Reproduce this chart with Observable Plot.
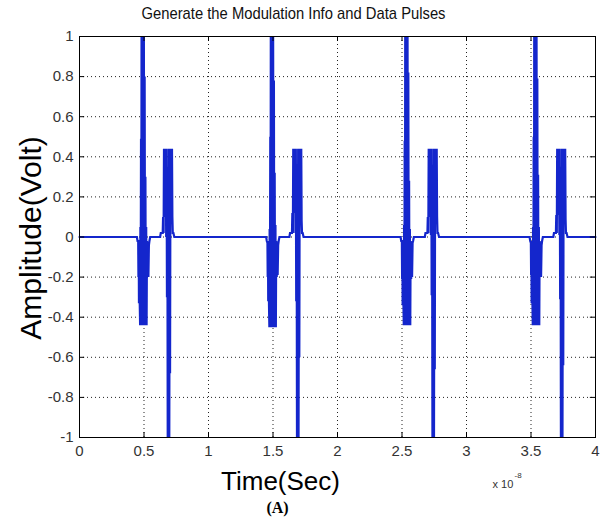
<!DOCTYPE html>
<html>
<head>
<meta charset="utf-8">
<script src="https://cdn.jsdelivr.net/npm/d3@7"></script>
<script src="https://cdn.jsdelivr.net/npm/@observablehq/plot@0.6"></script>
<style>
  html, body { margin: 0; padding: 0; background: #fff; }
</style>
</head>
<body>
<div id="chart"></div>
<script>
const titleText = "Generate the Modulation Info and Data Pulses";
const xLabel = "Time(Sec)";
const yLabel = "Amplitude(Volt)";
const panelLabel = "(A)";
const xTicks = [0, 0.5, 1, 1.5, 2, 2.5, 3, 3.5, 4];
const xTickLabels = ["0", "0.5", "1", "1.5", "2", "2.5", "3", "3.5", "4"];
const yTicks = [-1, -0.8, -0.6, -0.4, -0.2, 0, 0.2, 0.4, 0.6, 0.8, 1];
const yTickLabels = ["-1", "-0.8", "-0.6", "-0.4", "-0.2", "0", "0.2", "0.4", "0.6", "0.8", "1"];

// time in units of 1e-8 s
const startT = [0], startV = [0];
const endT = [4], endV = [0];

const times1a = [0.445,0.450,0.455,0.457,0.459,0.461,0.464,0.467,0.470,0.472,0.474,0.477,0.479,0.481,0.484,0.487,0.490,0.493,0.496,0.499,0.502,0.505,0.508,0.511,0.514,0.517,0.520,0.523,0.527,0.530,0.534,0.538,0.542,0.548];
const amps1a  = [0,-0.02,-0.02,-0.2,-0.03,-0.33,-0.05,-0.33,-0.44,0.05,-0.44,0.49,-0.44,1,-0.44,1,-0.3,1,-0.44,1,-0.44,0.8,-0.44,0.3,-0.44,0.05,-0.44,-0.02,-0.2,-0.03,-0.2,-0.04,-0.02,0];
const times1b = [0.625,0.630,0.645,0.648,0.652,0.655,0.659,0.662,0.666,0.669,0.672,0.675,0.678,0.681,0.684,0.687,0.690,0.693,0.696,0.699,0.702,0.705,0.708,0.711,0.714,0.717,0.720,0.723,0.728,0.735];
const amps1b  = [0,0.02,0.02,0.1,0.02,0.44,0.1,0.44,0.2,0.44,0,0.44,-0.3,0.35,-1,0.35,-1,0.44,-1,0.2,-0.68,0.44,0.1,0.44,0.2,0.44,0.1,0.02,0.02,0];

const times2a = [1.447,1.452,1.457,1.459,1.461,1.463,1.466,1.469,1.472,1.474,1.476,1.479,1.481,1.483,1.486,1.489,1.492,1.495,1.498,1.501,1.504,1.507,1.510,1.513,1.516,1.519,1.522,1.525,1.529,1.532,1.536,1.540,1.544,1.550];
const amps2a  = [0,-0.02,-0.03,-0.2,-0.02,-0.32,-0.06,-0.34,-0.45,0.04,-0.45,0.5,-0.45,1,-0.45,1,-0.28,1,-0.45,1,-0.45,0.78,-0.45,0.32,-0.45,0.06,-0.45,-0.02,-0.2,-0.03,-0.19,-0.04,-0.02,0];
const times2b = [1.627,1.632,1.647,1.650,1.654,1.657,1.661,1.664,1.668,1.671,1.674,1.677,1.680,1.683,1.686,1.689,1.692,1.695,1.698,1.701,1.704,1.707,1.710,1.713,1.716,1.719,1.722,1.725,1.730,1.737];
const amps2b  = [0,0.02,0.02,0.12,0.02,0.44,0.12,0.44,0.18,0.44,0.02,0.44,-0.32,0.36,-1,0.34,-1,0.44,-1,0.22,-0.6,0.44,0.12,0.44,0.18,0.44,0.08,0.02,0.02,0];

const times3a = [2.489,2.494,2.499,2.501,2.503,2.505,2.508,2.511,2.514,2.516,2.518,2.521,2.523,2.525,2.528,2.531,2.534,2.537,2.540,2.543,2.546,2.549,2.552,2.555,2.558,2.561,2.564,2.567,2.571,2.574,2.578,2.582,2.586,2.592];
const amps3a  = [0,-0.02,-0.02,-0.21,-0.03,-0.34,-0.05,-0.33,-0.44,0.06,-0.44,0.48,-0.44,1,-0.44,1,-0.31,1,-0.44,1,-0.44,0.82,-0.44,0.28,-0.44,0.04,-0.44,-0.02,-0.21,-0.03,-0.2,-0.03,-0.02,0];
const times3b = [2.677,2.682,2.697,2.700,2.704,2.707,2.711,2.714,2.718,2.721,2.724,2.727,2.730,2.733,2.736,2.739,2.742,2.745,2.748,2.751,2.754,2.757,2.760,2.763,2.766,2.769,2.772,2.775,2.780,2.787];
const amps3b  = [0,0.02,0.02,0.1,0.02,0.44,0.1,0.44,0.21,0.44,0.01,0.44,-0.29,0.35,-1,0.36,-1,0.44,-1,0.19,-0.66,0.44,0.1,0.44,0.2,0.44,0.1,0.02,0.02,0];

const times4a = [3.489,3.494,3.499,3.501,3.503,3.505,3.508,3.511,3.514,3.516,3.518,3.521,3.523,3.525,3.528,3.531,3.534,3.537,3.540,3.543,3.546,3.549,3.552,3.555,3.558,3.561,3.564,3.567,3.571,3.574,3.578,3.582,3.586,3.592];
const amps4a  = [0,-0.02,-0.03,-0.19,-0.02,-0.33,-0.06,-0.32,-0.44,0.05,-0.44,0.5,-0.44,1,-0.44,1,-0.29,1,-0.44,1,-0.44,0.79,-0.44,0.31,-0.44,0.05,-0.44,-0.02,-0.19,-0.03,-0.2,-0.04,-0.02,0];
const times4b = [3.673,3.678,3.693,3.696,3.700,3.703,3.707,3.710,3.714,3.717,3.720,3.723,3.726,3.729,3.732,3.735,3.738,3.741,3.744,3.747,3.750,3.753,3.756,3.759,3.762,3.765,3.768,3.771,3.776,3.783];
const amps4b  = [0,0.02,0.02,0.11,0.02,0.44,0.11,0.44,0.19,0.44,0.01,0.44,-0.31,0.34,-1,0.35,-1,0.44,-1,0.21,-0.64,0.44,0.11,0.44,0.19,0.44,0.09,0.02,0.02,0];

const allT = [].concat(startT, times1a, times1b, times2a, times2b, times3a, times3b, times4a, times4b, endT);
const allV = [].concat(startV, amps1a, amps1b, amps2a, amps2b, amps3a, amps3b, amps4a, amps4b, endV);
const signal = allT.map((t, i) => ({t, v: allV[i]}));

const fmtX = d => xTickLabels[xTicks.indexOf(d)];
const fmtY = d => yTickLabels[yTicks.indexOf(d)];
const gridStyle = {stroke: "#222", strokeOpacity: 1, strokeWidth: 1, strokeDasharray: "1,3"};

const svg = Plot.plot({
  width: 602,
  height: 523,
  marginLeft: 79,
  marginRight: 7,
  marginTop: 36,
  marginBottom: 86,
  style: {fontFamily: "'Liberation Sans', Arial, sans-serif", background: "#fff"},
  x: {domain: [0, 4]},
  y: {domain: [-1, 1]},
  marks: [
    Plot.gridX(xTicks, gridStyle),
    Plot.gridY(yTicks, gridStyle),
    Plot.line(signal, {x: "t", y: "v", stroke: "#1426cc", strokeWidth: 2.2, strokeLinejoin: "miter", strokeMiterlimit: 2}),
    Plot.ruleY(yTicks, {x1: 0, x2: 0.04, stroke: "#000"}),
    Plot.ruleY(yTicks, {x1: 3.96, x2: 4, stroke: "#000"}),
    Plot.ruleX(xTicks, {y1: -1, y2: -0.975, stroke: "#000"}),
    Plot.ruleX(xTicks, {y1: 0.975, y2: 1, stroke: "#000"}),
    Plot.frame({stroke: "#000", strokeWidth: 1}),
    Plot.axisX(xTicks, {tickSize: 0, tickPadding: 8, tickFormat: fmtX, fontSize: 15, fill: "#333", label: null}),
    Plot.axisY(yTicks, {tickSize: 0, tickPadding: 6, tickFormat: fmtY, fontSize: 15, fill: "#333", label: null}),
    Plot.text([titleText], {frameAnchor: "top", lineAnchor: "middle", dx: -44, dy: -23, fontSize: 17, fill: "#111"}),
    Plot.text([xLabel], {frameAnchor: "bottom", lineAnchor: "middle", dx: -57, dy: 44, fontSize: 26, fill: "#000"}),
    Plot.text([yLabel], {frameAnchor: "left", textAnchor: "middle", lineAnchor: "middle", dx: -48, dy: 1, rotate: -90, fontSize: 30, fill: "#000"}),
    Plot.text([panelLabel], {frameAnchor: "bottom", lineAnchor: "middle", dx: -60, dy: 70, fontSize: 16, fontWeight: "bold", fontFamily: "'Liberation Serif', 'Times New Roman', serif", fill: "#000"}),
    Plot.text(["x 10"], {frameAnchor: "bottom", textAnchor: "start", lineAnchor: "middle", dx: 155, dy: 47, fontSize: 11, fill: "#333"}),
    Plot.text(["-8"], {frameAnchor: "bottom", textAnchor: "start", lineAnchor: "middle", dx: 177, dy: 38, fontSize: 8, fill: "#333"})
  ]
});

// condense the title like the reference rendering
Array.from(svg.querySelectorAll("text")).forEach(t => {
  if (t.textContent === titleText) {
    t.setAttribute("textLength", "304");
    t.setAttribute("lengthAdjust", "spacingAndGlyphs");
  }
});

document.getElementById("chart").appendChild(svg);
</script>
</body>
</html>
